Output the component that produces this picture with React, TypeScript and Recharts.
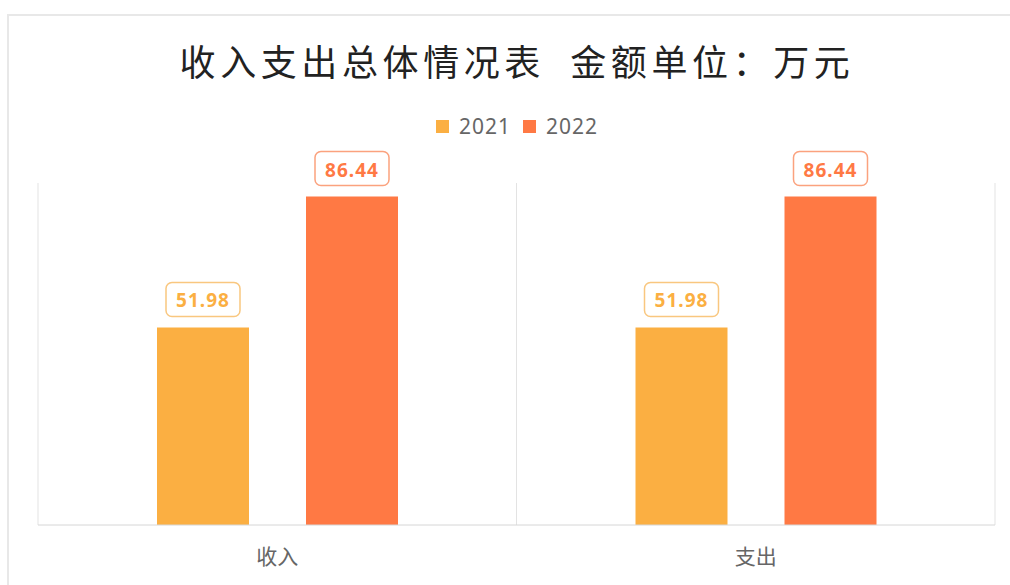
import React from 'react';
import { BarChart, Bar, XAxis, YAxis, CartesianGrid, LabelList } from 'recharts';

const categories = ['收入', '支出'];
const values2021 = [51.98, 51.98];
const values2022 = [86.44, 86.44];
const seriesNames = ['2021', '2022'];
const colors = ['#FBAF42', '#FF7944'];
const borderColors = ['#F9C77F', '#FBA27E'];

const data = categories.map((c, i) => ({
  name: c,
  [seriesNames[0]]: values2021[i],
  [seriesNames[1]]: values2022[i],
}));

const makeLabel = (idx: number) => (props: any) => {
  const { x, y, width, value } = props;
  const cx = Number(x) + Number(width) / 2;
  const w = 74;
  const h = 34;
  const top = Number(y) - 11 - h;
  return (
    <g>
      <rect x={cx - w / 2} y={top} width={w} height={h} rx={6} ry={6} fill="#fff" stroke={borderColors[idx]} strokeWidth={1.5} />
      <text x={cx} y={top + h / 2 + 1} textAnchor="middle" dominantBaseline="central" fill={colors[idx]} fontSize={19} fontWeight={700} letterSpacing={1} fontFamily="'Noto Sans', sans-serif">
        {Number(value).toFixed(2)}
      </text>
    </g>
  );
};

const LegendBox = () => (
  <div style={{ position: 'absolute', left: 0, top: 112, width: 1034, display: 'flex', justifyContent: 'center', alignItems: 'center', fontFamily: "'Noto Sans', sans-serif", fontSize: 21, color: '#666', lineHeight: '28px' }}>
    {seriesNames.map((n, i) => (
      <div key={n} style={{ display: 'flex', alignItems: 'center', marginRight: i === 0 ? 12 : 0 }}>
        <span style={{ display: 'inline-block', width: 13, height: 13, background: colors[i], marginRight: 10 }} />
        <span style={{ letterSpacing: 1 }}>{n}</span>
      </div>
    ))}
  </div>
);

export default function App() {
  return (
    <div style={{ position: 'absolute', left: 0, top: 0, width: 1010, height: 585, overflow: 'hidden', background: '#fff' }}>
      <div style={{ position: 'absolute', left: 7, top: 14, width: 1020, height: 600, border: '2px solid #e8e8e8', boxSizing: 'border-box' }} />
      <div style={{ position: 'absolute', left: 0, top: 0 }}>
        <BarChart width={1010} height={585} data={data} margin={{ top: 183, right: 15, bottom: 0, left: 38 }} barCategoryGap={119} barGap={57}>
          <CartesianGrid
            horizontal={false}
            stroke="#e3e3e3"
            verticalCoordinatesGenerator={({ offset }: any) => [offset.left, offset.left + offset.width / 2, offset.left + offset.width]}
          />
          <XAxis dataKey="name" height={60} axisLine={{ stroke: '#d6d6d6' }} tickLine={false} tick={{ fill: '#666', fontSize: 21, fontFamily: "'Noto Sans CJK SC', sans-serif" }} tickMargin={18} />
          <YAxis hide domain={[0, 90]} />
          <Bar dataKey={seriesNames[0]} fill={colors[0]} isAnimationActive={false}>
            <LabelList dataKey={seriesNames[0]} content={makeLabel(0)} />
          </Bar>
          <Bar dataKey={seriesNames[1]} fill={colors[1]} isAnimationActive={false}>
            <LabelList dataKey={seriesNames[1]} content={makeLabel(1)} />
          </Bar>
        </BarChart>
      </div>
      <div style={{ position: 'absolute', left: 0, top: 40, width: 1034, height: 40, lineHeight: '40px', textAlign: 'center', fontSize: 36, letterSpacing: 4.6, whiteSpace: 'pre', color: '#222', fontFamily: "'Noto Sans CJK SC', sans-serif" }}>
        收入支出总体情况表  金额单位：万元
      </div>
      <LegendBox />
    </div>
  );
}
